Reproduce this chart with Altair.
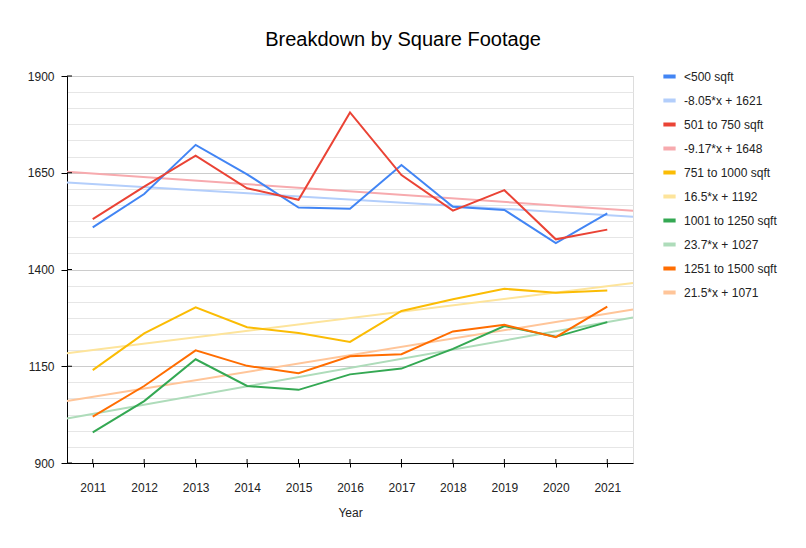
import altair as alt
import pandas as pd

years = list(range(2011, 2022))
lt500 = [1509, 1595, 1722, 1646, 1560, 1557, 1670, 1562, 1554, 1468, 1545]
s501_750 = [1530, 1614, 1694, 1610, 1580, 1806, 1644, 1552, 1605, 1478, 1503]
s751_1000 = [1140, 1235, 1302, 1251, 1236, 1213, 1293, 1323, 1350, 1340, 1346]
s1001_1250 = [979, 1060, 1168, 1099, 1089, 1129, 1144, 1195, 1254, 1226, 1264]
s1251_1500 = [1020, 1099, 1191, 1151, 1132, 1176, 1181, 1240, 1257, 1225, 1304]

series_names = ["<500 sqft", "501 to 750 sqft", "751 to 1000 sqft",
                "1001 to 1250 sqft", "1251 to 1500 sqft"]
trend_names = ["-8.05*x + 1621", "-9.17*x + 1648", "16.5*x + 1192",
               "23.7*x + 1027", "21.5*x + 1071"]
slopes = [-8.05, -9.17, 16.5, 23.7, 21.5]
intercepts = [1621, 1648, 1192, 1027, 1071]
series_colors = ["#4285F4", "#EA4335", "#FBBC04", "#34A853", "#FF6D01"]
trend_colors = ["#B3CEFB", "#F7AAAE", "#FDE49B", "#AEDCBA", "#FFC599"]

y_major = [900, 1150, 1400, 1650, 1900]
y_ticks = [900 + i * 250 / 6 for i in range(25)]
x_domain = [2010.5, 2021.5]

W, H = 566, 387
FONT = "Liberation Sans"

rows = []
for name, vals in zip(series_names, [lt500, s501_750, s751_1000, s1001_1250, s1251_1500]):
    for yr, v in zip(years, vals):
        rows.append({"label": name, "year": yr, "value": v})
df = pd.DataFrame(rows)

trows = []
for name, m, b in zip(trend_names, slopes, intercepts):
    for xv in x_domain:
        trows.append({"label": name, "year": xv, "value": b + m * (xv - 2011)})
tdf = pd.DataFrame(trows)

order = []
colors = []
for s, t, cs, ct in zip(series_names, trend_names, series_colors, trend_colors):
    order += [s, t]
    colors += [cs, ct]

major_test = "round(datum.value) % 250 == 150"

xscale = alt.Scale(domain=x_domain, nice=False, zero=False)
yscale = alt.Scale(domain=[900, 1900], nice=False, zero=False)

color = alt.Color(
    "label:N",
    scale=alt.Scale(domain=order, range=colors),
    legend=alt.Legend(
        title=None, orient="none", legendX=594, legendY=-8,
        symbolType="stroke", symbolStrokeWidth=4, symbolSize=150,
        labelFont=FONT, labelFontSize=12, labelColor="#222222",
        labelOffset=6, rowPadding=7, labelLimit=200,
    ),
)

x_enc = alt.X(
    "year:Q", scale=xscale,
    axis=alt.Axis(
        values=years, format="d", title="Year", grid=False, tickCount=40,
        domainColor="#000000", tickColor="#000000", tickSize=4,
        labelPadding=15, labelFont=FONT, labelFontSize=12, labelColor="#222222",
        titleFont=FONT, titleFontSize=12, titleFontWeight="normal",
        titleColor="#222222", titlePadding=14, labelOverlap=False,
    ),
)
y_enc = alt.Y(
    "value:Q", scale=yscale,
    axis=alt.Axis(
        values=y_ticks, title=None, labelOverlap=False, tickCount=40,
        labelExpr=f"({major_test}) ? format(datum.value, 'd') : ''",
        gridColor={"condition": {"test": major_test, "value": "#cccccc"}, "value": "#e6e6e6"},
        tickColor={"condition": {"test": major_test, "value": "#000000"}, "value": "transparent"},
        domainColor="#000000", tickSize=6, labelPadding=7,
        labelFont=FONT, labelFontSize=12, labelColor="#222222",
    ),
)

trend = alt.Chart(tdf).mark_line(strokeWidth=2).encode(
    x=x_enc, y=y_enc, color=color, detail="label:N"
)
series = alt.Chart(df).mark_line(strokeWidth=2).encode(
    x="year:Q", y="value:Q", color="label:N"
)

xt = alt.Chart(pd.DataFrame({"year": years})).mark_rule(color="#000000").encode(
    x="year:Q", y=alt.value(H - 4), y2=alt.value(H)
)
yt = alt.Chart(pd.DataFrame({"value": y_major})).mark_rule(color="#000000").encode(
    y="value:Q", x=alt.value(0), x2=alt.value(5)
)

chart = alt.layer(trend, series, xt, yt).properties(
    width=W, height=H,
    title=alt.TitleParams(
        "Breakdown by Square Footage", font=FONT, fontSize=20,
        fontWeight="normal", color="#000000", anchor="middle", dx=53, offset=18,
    ),
    autosize=alt.AutoSizeParams(type="none"),
    padding={"left": 67, "top": 76, "right": 173, "bottom": 85},
).configure_view(stroke=None).configure(background="white")

chart.save("out.html", embed_options={"renderer": "svg", "actions": False})
